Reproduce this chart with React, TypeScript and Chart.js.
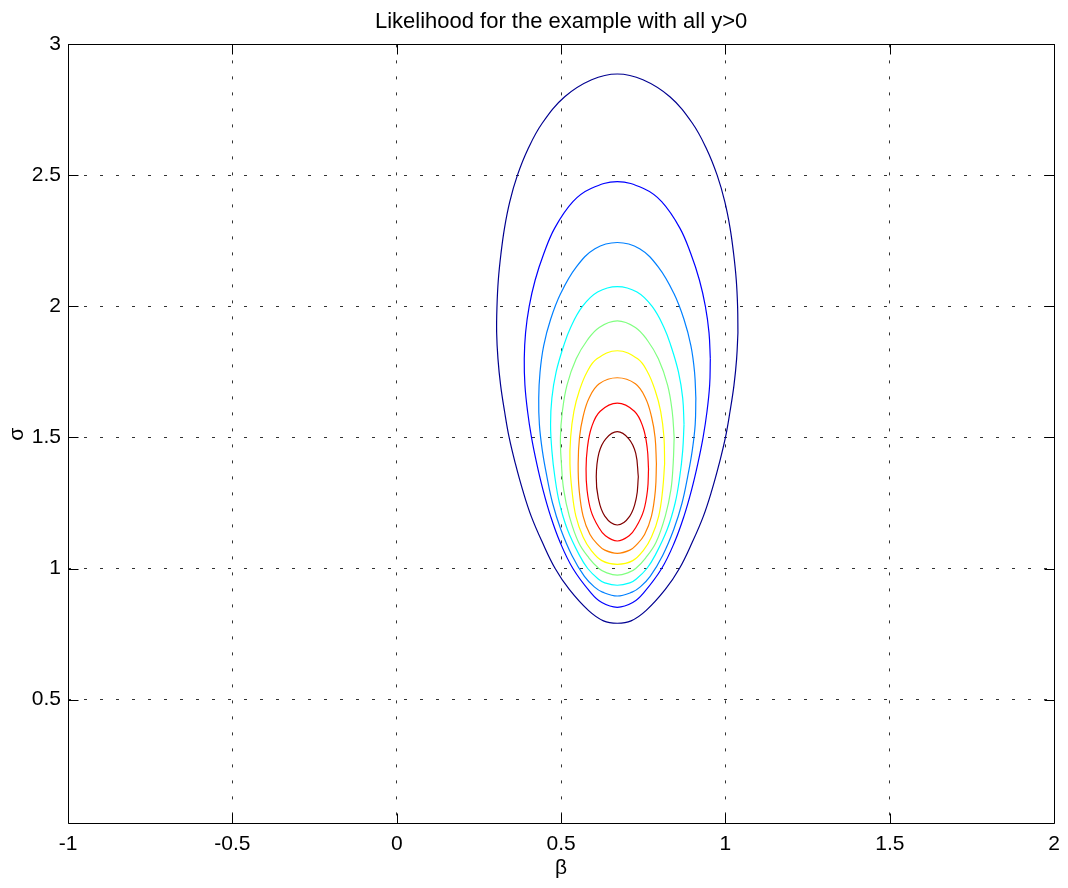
import React, { useEffect, useRef } from 'react';
import { Chart, registerables } from 'chart.js';

Chart.register(...registerables);

// ---- text ----
const chartTitle = 'Likelihood for the example with all y>0';
const xAxisLabel = 'β';
const yAxisLabel = 'σ';

// ---- axes ----
const xTicks = [-1, -0.5, 0, 0.5, 1, 1.5, 2];
const yTicks = [0.5, 1, 1.5, 2, 2.5, 3];
const xMin = -1;
const xMax = 2;
const yMin = 0.025;
const yMax = 3;

// ---- contour lines (outermost first) ----
// for each contour: sigma levels (top to bottom) and the beta of the left / right branch at each level
const sigma1 = [2.887, 2.865, 2.8, 2.7, 2.6, 2.5, 2.4, 2.3, 2.2, 2.1, 2.0, 1.9, 1.8, 1.7, 1.6, 1.5, 1.4, 1.3, 1.2, 1.1, 1.0, 0.92, 0.84, 0.8, 0.791];
const betaLeft1 = [0.671, 0.593, 0.511, 0.443, 0.399, 0.367, 0.344, 0.328, 0.317, 0.309, 0.305, 0.304, 0.308, 0.316, 0.328, 0.342, 0.361, 0.383, 0.409, 0.443, 0.482, 0.525, 0.583, 0.629, 0.671];
const betaRight1 = [0.671, 0.749, 0.831, 0.899, 0.943, 0.975, 0.998, 1.014, 1.025, 1.033, 1.037, 1.038, 1.034, 1.026, 1.014, 1.0, 0.981, 0.959, 0.933, 0.899, 0.86, 0.817, 0.759, 0.713, 0.671];

const sigma2 = [2.476, 2.45, 2.4, 2.3, 2.2, 2.1, 2.0, 1.9, 1.8, 1.7, 1.6, 1.5, 1.4, 1.3, 1.2, 1.1, 1.0, 0.91, 0.87, 0.852];
const betaLeft2 = [0.671, 0.591, 0.536, 0.481, 0.447, 0.421, 0.403, 0.392, 0.388, 0.39, 0.398, 0.41, 0.426, 0.445, 0.468, 0.497, 0.536, 0.589, 0.624, 0.671];
const betaRight2 = [0.671, 0.751, 0.806, 0.861, 0.895, 0.921, 0.939, 0.95, 0.954, 0.952, 0.944, 0.932, 0.916, 0.897, 0.874, 0.845, 0.806, 0.753, 0.718, 0.671];

const sigma3 = [2.244, 2.22, 2.15, 2.05, 1.95, 1.85, 1.75, 1.65, 1.55, 1.45, 1.35, 1.25, 1.15, 1.05, 0.97, 0.93, 0.91, 0.895];
const betaLeft3 = [0.671, 0.603, 0.546, 0.499, 0.468, 0.447, 0.436, 0.432, 0.434, 0.443, 0.457, 0.474, 0.499, 0.533, 0.571, 0.601, 0.626, 0.671];
const betaRight3 = [0.671, 0.739, 0.796, 0.843, 0.874, 0.895, 0.906, 0.91, 0.908, 0.899, 0.885, 0.868, 0.843, 0.809, 0.771, 0.741, 0.716, 0.671];

const sigma4 = [2.076, 2.055, 2.0, 1.92, 1.85, 1.75, 1.65, 1.55, 1.45, 1.35, 1.25, 1.15, 1.05, 1.0, 0.96, 0.945, 0.936];
const betaLeft4 = [0.671, 0.611, 0.565, 0.529, 0.508, 0.485, 0.472, 0.468, 0.472, 0.481, 0.495, 0.519, 0.556, 0.581, 0.613, 0.633, 0.671];
const betaRight4 = [0.671, 0.731, 0.777, 0.813, 0.834, 0.857, 0.87, 0.874, 0.87, 0.861, 0.847, 0.823, 0.786, 0.761, 0.729, 0.709, 0.671];

const sigma5 = [1.945, 1.92, 1.87, 1.8, 1.7, 1.6, 1.5, 1.4, 1.3, 1.2, 1.1, 1.04, 1.0, 0.985, 0.975];
const betaLeft5 = [0.671, 0.616, 0.579, 0.546, 0.518, 0.504, 0.498, 0.501, 0.508, 0.525, 0.553, 0.585, 0.615, 0.636, 0.671];
const betaRight5 = [0.671, 0.726, 0.763, 0.796, 0.824, 0.838, 0.844, 0.841, 0.834, 0.817, 0.789, 0.757, 0.727, 0.706, 0.671];

const sigma6 = [1.831, 1.8, 1.75, 1.68, 1.6, 1.5, 1.4, 1.3, 1.2, 1.12, 1.07, 1.03, 1.016];
const betaLeft6 = [0.671, 0.609, 0.579, 0.556, 0.539, 0.529, 0.527, 0.533, 0.545, 0.567, 0.591, 0.624, 0.671];
const betaRight6 = [0.671, 0.733, 0.763, 0.786, 0.803, 0.813, 0.815, 0.809, 0.797, 0.775, 0.751, 0.718, 0.671];

const sigma7 = [1.728, 1.705, 1.65, 1.58, 1.5, 1.4, 1.3, 1.2, 1.13, 1.09, 1.07, 1.058];
const betaLeft7 = [0.671, 0.616, 0.585, 0.567, 0.556, 0.552, 0.555, 0.567, 0.588, 0.613, 0.633, 0.671];
const betaRight7 = [0.671, 0.726, 0.757, 0.775, 0.786, 0.79, 0.787, 0.775, 0.754, 0.729, 0.709, 0.671];

const sigma8 = [1.631, 1.6, 1.54, 1.46, 1.38, 1.3, 1.22, 1.16, 1.125, 1.105];
const betaLeft8 = [0.671, 0.619, 0.593, 0.58, 0.576, 0.579, 0.591, 0.613, 0.635, 0.671];
const betaRight8 = [0.671, 0.723, 0.749, 0.762, 0.766, 0.763, 0.751, 0.729, 0.707, 0.671];

const sigma9 = [1.522, 1.495, 1.44, 1.35, 1.27, 1.2, 1.166];
const betaLeft9 = [0.671, 0.636, 0.615, 0.607, 0.613, 0.633, 0.671];
const betaRight9 = [0.671, 0.706, 0.727, 0.735, 0.729, 0.709, 0.671];

const contourTable = [
  { sigma: sigma1, left: betaLeft1, right: betaRight1 },
  { sigma: sigma2, left: betaLeft2, right: betaRight2 },
  { sigma: sigma3, left: betaLeft3, right: betaRight3 },
  { sigma: sigma4, left: betaLeft4, right: betaRight4 },
  { sigma: sigma5, left: betaLeft5, right: betaRight5 },
  { sigma: sigma6, left: betaLeft6, right: betaRight6 },
  { sigma: sigma7, left: betaLeft7, right: betaRight7 },
  { sigma: sigma8, left: betaLeft8, right: betaRight8 },
  { sigma: sigma9, left: betaLeft9, right: betaRight9 },
];

// jet colours, one per contour level (outermost first)
const contourColors = ['#000090', '#0000ff', '#0080ff', '#00ffff', '#80ff80', '#ffff00', '#ff8000', '#ff0000', '#800000'];

const FONT = "'Liberation Sans', Arial, Helvetica, sans-serif";

// closed path: right branch top->bottom, left branch bottom->top, started at the widest right point
function closedPath(c: { sigma: number[]; left: number[]; right: number[] }) {
  const n = c.sigma.length;
  const ring: { x: number; y: number }[] = [];
  for (let i = 0; i < n; i++) ring.push({ x: c.right[i], y: c.sigma[i] });
  for (let i = n - 2; i >= 1; i--) ring.push({ x: c.left[i], y: c.sigma[i] });
  let start = 0;
  for (let i = 0; i < n; i++) if (c.right[i] > c.right[start]) start = i;
  const out = ring.slice(start).concat(ring.slice(0, start));
  out.push(out[0]);
  return out;
}

const framePlugin = {
  id: 'frameAndTicks',
  afterDraw(chart: any) {
    const { ctx, chartArea, scales } = chart;
    const { left, right, top, bottom } = chartArea;
    const L = Math.round(left) + 0.5;
    const R = Math.round(right) + 0.5;
    const T = Math.round(top) + 0.5;
    const B = Math.round(bottom) - 0.5;
    const tickLen = 10;
    ctx.save();
    ctx.strokeStyle = '#000';
    ctx.lineWidth = 1;
    ctx.setLineDash([]);
    ctx.beginPath();
    ctx.rect(L, T, R - L, B - T);
    xTicks.forEach((v) => {
      const px = Math.round(scales.x.getPixelForValue(v)) + 0.5;
      ctx.moveTo(px, B);
      ctx.lineTo(px, B - tickLen);
      ctx.moveTo(px, T);
      ctx.lineTo(px, T + tickLen);
    });
    yTicks.forEach((v) => {
      const py = Math.round(scales.y.getPixelForValue(v)) + 0.5;
      ctx.moveTo(L, py);
      ctx.lineTo(L + tickLen, py);
      ctx.moveTo(R, py);
      ctx.lineTo(R - tickLen, py);
    });
    ctx.stroke();
    ctx.restore();
  },
};

export default function App() {
  const canvasRef = useRef<HTMLCanvasElement | null>(null);

  useEffect(() => {
    const canvas = canvasRef.current;
    if (!canvas) return;

    const datasets = contourTable.map((c, i) => ({
      label: `level ${i + 1}`,
      data: closedPath(c),
      showLine: true,
      borderColor: contourColors[i],
      backgroundColor: contourColors[i],
      borderWidth: 1.2,
      pointRadius: 0,
      pointHoverRadius: 0,
      tension: 0.4,
      fill: false,
    }));

    const chart = new Chart(canvas, {
      type: 'scatter',
      data: { datasets },
      plugins: [framePlugin],
      options: {
        animation: false,
        responsive: false,
        devicePixelRatio: 1,
        events: [],
        layout: { padding: { left: 0, right: 12, top: 0, bottom: 0 } },
        plugins: {
          legend: { display: false },
          tooltip: { enabled: false },
          title: {
            display: true,
            text: chartTitle,
            fullSize: false,
            color: '#000',
            font: { family: FONT, size: 22, weight: 'normal' },
            padding: { top: 9, bottom: 9 },
          },
        },
        scales: {
          x: {
            type: 'linear',
            min: xMin,
            max: xMax,
            afterBuildTicks: (s: any) => {
              s.ticks = xTicks.map((v) => ({ value: v }));
            },
            afterFit: (s: any) => {
              s.height = 64;
            },
            grid: { color: '#333', lineWidth: 1, drawTicks: false, tickLength: 0 },
            border: { display: false, dash: [3, 13] },
            ticks: {
              color: '#000',
              padding: 8,
              maxRotation: 0,
              font: { family: FONT, size: 21 },
              callback: (v: any) => String(Number(v)),
            },
            title: {
              display: true,
              text: xAxisLabel,
              color: '#000',
              font: { family: FONT, size: 21 },
              padding: { top: 0, bottom: 7 },
            },
          },
          y: {
            type: 'linear',
            min: yMin,
            max: yMax,
            afterBuildTicks: (s: any) => {
              s.ticks = yTicks.map((v) => ({ value: v }));
            },
            afterFit: (s: any) => {
              s.width = 68;
            },
            grid: { color: '#333', lineWidth: 1, drawTicks: false, tickLength: 0 },
            border: { display: false, dash: [3, 13] },
            ticks: {
              color: '#000',
              padding: 7,
              font: { family: FONT, size: 21 },
              callback: (v: any) => String(Number(v)),
            },
            title: {
              display: true,
              text: yAxisLabel,
              color: '#000',
              font: { family: FONT, size: 21 },
              padding: { top: 5, bottom: 0 },
            },
          },
        },
      },
    } as any);

    return () => {
      chart.destroy();
    };
  }, []);

  return (
    <div style={{ position: 'absolute', left: 0, top: 0, width: 1068, height: 888, background: '#fff' }}>
      <canvas ref={canvasRef} width={1068} height={888} style={{ display: 'block' }} />
    </div>
  );
}
